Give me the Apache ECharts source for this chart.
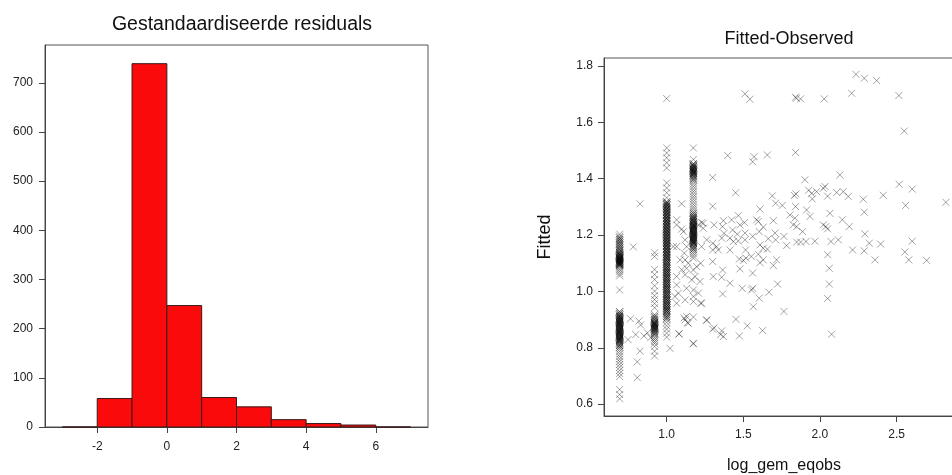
<!DOCTYPE html>
<html>
<head>
<meta charset="utf-8">
<title>Residuals and fitted values</title>
<script src="https://cdn.jsdelivr.net/npm/echarts@6/dist/echarts.min.js"></script>
<style>
  html, body { margin: 0; padding: 0; background: #ffffff; }
  #chart { width: 952px; height: 475px; }
</style>
</head>
<body>
<div id="chart"></div>
<script>
// ---- Histogram of standardised residuals ----
const binEdges = [-3, -2, -1, 0, 1, 2, 3, 4, 5, 6, 7];
const binCounts = [0, 58, 739, 247, 60, 41, 15, 7, 4, 0];
const histXTicks = [-2, 0, 2, 4, 6];
const histYTicks = [0, 100, 200, 300, 400, 500, 600, 700];

// ---- Fitted vs observed ----
// x positions of the four dense columns of observations
const stripeX = [0.693, 0.921, 1.0, 1.174];
// each column: [fitted value, number of observations sharing it]
const stripe069 = [
  [1.203, 1], [1.196, 1], [1.190, 2], [1.184, 2], [1.178, 2], [1.172, 2], [1.166, 2],
  [1.160, 2], [1.154, 2], [1.148, 2], [1.143, 2], [1.138, 2], [1.134, 2], [1.130, 3],
  [1.126, 3], [1.122, 3], [1.119, 3], [1.116, 3], [1.113, 3], [1.110, 3], [1.107, 3],
  [1.104, 3], [1.101, 3], [1.098, 3], [1.095, 3], [1.092, 2], [1.088, 1], [1.083, 1],
  [1.077, 1], [1.070, 1], [1.062, 1], [1.055, 1], [1.005, 1],
  [0.928, 2], [0.922, 2], [0.916, 3], [0.911, 3], [0.906, 3], [0.902, 3], [0.898, 3],
  [0.894, 3], [0.890, 3], [0.886, 3], [0.882, 3], [0.878, 3], [0.874, 3], [0.870, 3],
  [0.866, 3], [0.862, 3], [0.858, 3], [0.854, 3], [0.850, 3], [0.846, 3], [0.842, 3],
  [0.838, 3], [0.834, 3], [0.830, 3], [0.826, 3], [0.822, 2], [0.818, 2], [0.813, 2],
  [0.808, 2], [0.802, 2], [0.795, 1], [0.787, 1], [0.778, 1], [0.769, 1], [0.760, 1],
  [0.751, 1], [0.741, 1], [0.731, 1], [0.720, 1], [0.709, 1], [0.698, 1], [0.652, 1],
  [0.634, 1], [0.619, 1]
];
const stripe092 = [
  [1.137, 1], [1.124, 1], [1.078, 1], [1.060, 1], [1.042, 1], [1.020, 1], [1.001, 1],
  [0.985, 1], [0.971, 1], [0.957, 1], [0.942, 1], [0.918, 1], [0.912, 2], [0.906, 2],
  [0.900, 2], [0.895, 2], [0.890, 3], [0.886, 3], [0.882, 3], [0.878, 3], [0.874, 3],
  [0.870, 3], [0.866, 3], [0.862, 2], [0.858, 2], [0.853, 2], [0.848, 2], [0.842, 1],
  [0.836, 1], [0.829, 1], [0.822, 1], [0.815, 1], [0.805, 1], [0.788, 1], [0.771, 1]
];
const stripe100 = [
  [1.684, 1], [1.509, 1], [1.491, 1], [1.474, 1], [1.456, 1], [1.438, 1], [1.385, 1],
  [1.367, 1], [1.350, 1], [1.332, 1],
  [1.318, 2], [1.313, 3], [1.307, 3], [1.302, 3], [1.296, 3], [1.291, 3], [1.285, 3],
  [1.280, 3], [1.274, 3], [1.269, 3], [1.263, 3], [1.258, 3], [1.252, 3], [1.247, 3],
  [1.241, 3], [1.236, 3], [1.230, 3], [1.225, 3], [1.219, 3], [1.214, 3], [1.208, 3],
  [1.203, 3], [1.197, 3], [1.192, 3], [1.186, 3], [1.181, 3], [1.175, 3], [1.170, 3],
  [1.164, 3], [1.159, 3], [1.153, 3], [1.148, 3], [1.142, 3], [1.137, 3], [1.131, 3],
  [1.126, 3], [1.120, 3], [1.115, 3], [1.109, 3], [1.103, 3], [1.097, 3], [1.091, 3],
  [1.085, 3], [1.079, 3], [1.073, 3], [1.067, 3], [1.061, 3], [1.055, 3], [1.049, 3],
  [1.043, 3], [1.037, 3], [1.031, 3], [1.025, 3], [1.019, 3], [1.013, 3], [1.007, 3],
  [1.001, 3], [0.995, 3], [0.989, 3], [0.983, 3], [0.977, 3], [0.971, 3], [0.965, 3],
  [0.959, 3], [0.953, 3], [0.947, 3], [0.941, 3], [0.935, 3], [0.929, 3], [0.923, 2],
  [0.917, 2], [0.911, 2], [0.905, 2], [0.899, 1], [0.890, 1], [0.878, 1], [0.866, 1],
  [0.852, 1], [0.838, 1]
];
const stripe117 = [
  [1.509, 1], [1.468, 1], [1.453, 2], [1.448, 3], [1.443, 3], [1.438, 3], [1.434, 3],
  [1.430, 3], [1.426, 3], [1.422, 3], [1.418, 3], [1.413, 3], [1.408, 2], [1.402, 2],
  [1.396, 2], [1.389, 1], [1.381, 1], [1.372, 1], [1.363, 1], [1.354, 1], [1.345, 1],
  [1.336, 1], [1.327, 1], [1.318, 1], [1.309, 1], [1.300, 1], [1.292, 1], [1.284, 1],
  [1.277, 2], [1.270, 2], [1.264, 3], [1.258, 3], [1.253, 3], [1.248, 3], [1.243, 3],
  [1.238, 3], [1.234, 3], [1.230, 3], [1.226, 3], [1.222, 3], [1.218, 3], [1.214, 3],
  [1.210, 3], [1.206, 3], [1.202, 3], [1.198, 3], [1.194, 3], [1.190, 3], [1.186, 3],
  [1.182, 3], [1.178, 3], [1.174, 3], [1.170, 3], [1.165, 2], [1.160, 2], [1.154, 2],
  [1.148, 2], [1.141, 1], [1.134, 1], [1.126, 1], [1.118, 1]
];
// remaining observations as [log_gem_eqobs, fitted]
const scatterPts = [
  [1.511, 1.701], [1.543, 1.682], [1.841, 1.689], [1.846, 1.685], [1.874, 1.683],
  [2.028, 1.683], [2.207, 1.703], [2.235, 1.770], [2.289, 1.756], [2.370, 1.748],
  [2.515, 1.695], [2.550, 1.569],
  [1.398, 1.482], [1.570, 1.478], [1.561, 1.460], [1.657, 1.484], [1.841, 1.493],
  [1.300, 1.404], [1.450, 1.350], [0.826, 1.311], [1.098, 1.311], [1.300, 1.302],
  [2.130, 1.413], [1.902, 1.396], [2.517, 1.380], [2.602, 1.363], [2.413, 1.341],
  [2.822, 1.316], [2.559, 1.305], [2.283, 1.327], [2.289, 1.281], [2.022, 1.366],
  [2.033, 1.372], [1.926, 1.359], [1.946, 1.348], [1.950, 1.328], [1.978, 1.354],
  [1.843, 1.346], [1.833, 1.340], [1.841, 1.301], [2.050, 1.338], [2.109, 1.351],
  [2.152, 1.354], [2.185, 1.337], [2.191, 1.230], [2.065, 1.277], [2.146, 1.254],
  [2.120, 1.183], [2.213, 1.147], [2.293, 1.204], [2.322, 1.171], [2.289, 1.144],
  [2.396, 1.168], [2.359, 1.112], [2.554, 1.140], [2.602, 1.178], [2.580, 1.112],
  [2.696, 1.110],
  [1.689, 1.339], [1.711, 1.313], [1.754, 1.305], [1.804, 1.271], [1.826, 1.236],
  [1.848, 1.230], [1.913, 1.289], [1.935, 1.266], [1.837, 1.260], [1.887, 1.212],
  [1.848, 1.175], [1.874, 1.175], [1.909, 1.177], [1.967, 1.178], [2.022, 1.236],
  [2.039, 1.230], [2.050, 1.222], [2.072, 1.177], [2.050, 1.130], [2.061, 1.082],
  [2.061, 1.026], [2.050, 0.975], [2.076, 0.848],
  [1.783, 1.163], [1.765, 1.195], [1.707, 1.207], [1.696, 1.251], [1.711, 1.183],
  [1.717, 1.112], [1.696, 1.092], [1.724, 1.026], [1.765, 0.929], [1.667, 0.997],
  [1.630, 1.228], [1.604, 1.212], [1.598, 1.248], [1.587, 1.254], [1.609, 1.292],
  [1.561, 1.195], [1.609, 1.165], [1.630, 1.153], [1.657, 1.150], [1.663, 1.187],
  [1.598, 1.132], [1.552, 1.124], [1.630, 1.112], [1.609, 1.102], [1.604, 0.976],
  [1.561, 1.065], [1.561, 1.011], [1.554, 1.005], [1.565, 0.946], [1.493, 1.011],
  [1.526, 0.878], [1.626, 0.861], [1.474, 0.842], [1.452, 0.901],
  [1.511, 1.207], [1.511, 1.183], [1.515, 1.147], [1.517, 1.118], [1.500, 1.110],
  [1.478, 1.080], [1.474, 1.115], [1.467, 1.179], [1.435, 1.177], [1.430, 1.218],
  [1.461, 1.203], [1.478, 1.236], [1.424, 1.254], [1.467, 1.269], [1.507, 1.244],
  [1.413, 1.147], [1.413, 1.189], [1.374, 1.206], [1.365, 1.230], [1.359, 1.189],
  [1.370, 1.251], [1.326, 1.159], [1.337, 1.147], [1.300, 1.147], [1.300, 1.171],
  [1.309, 1.236], [1.261, 1.183], [1.239, 1.242], [1.228, 1.159], [1.222, 1.100],
  [1.217, 1.035], [1.300, 1.106], [1.304, 1.053], [1.359, 1.050], [1.365, 1.076],
  [1.413, 1.029], [1.365, 0.991], [1.228, 0.958], [1.261, 0.899], [1.300, 0.866],
  [1.359, 0.860], [1.370, 0.840],
  [1.174, 0.982], [1.174, 0.816], [1.130, 0.911], [1.120, 0.899], [1.141, 0.887],
  [1.080, 0.849], [1.054, 0.982], [1.065, 0.958], [1.076, 0.994], [1.065, 1.023],
  [1.065, 1.053], [1.098, 1.077], [1.120, 1.059], [1.120, 1.112], [1.130, 1.082],
  [1.141, 1.100], [1.130, 1.011], [1.120, 0.970], [1.174, 0.964], [1.174, 1.005],
  [1.163, 1.041], [1.174, 1.076], [1.185, 1.053], [1.196, 1.088], [1.222, 0.958],
  [1.207, 0.994], [1.065, 1.254], [1.065, 1.236], [1.098, 1.221], [1.109, 1.212],
  [1.120, 1.183], [1.130, 1.159], [1.115, 1.136], [1.087, 1.112], [1.065, 1.159],
  [1.043, 1.159], [1.228, 1.244], [1.239, 1.224], [1.207, 1.236],
  [0.782, 1.158], [0.764, 0.903], [0.819, 0.895], [0.830, 0.881], [0.798, 0.847],
  [0.852, 0.842], [0.748, 0.829], [0.826, 0.788], [0.808, 0.750], [0.808, 0.694],
  [0.874, 0.853], [0.896, 0.836], [1.022, 0.798], [1.081, 0.850], [1.174, 0.814],
  [1.114, 0.906], [1.136, 0.889], [1.174, 0.909], [1.261, 0.897], [1.309, 0.871],
  [1.352, 0.847]
];
const fitYTicks = [0.6, 0.8, 1.0, 1.2, 1.4, 1.6, 1.8];
const fitXTicks = [1.0, 1.5, 2.0, 2.5];

const histData = binCounts.map((n, i) => [binEdges[i], binEdges[i + 1], n]);
const stripes = [stripe069, stripe092, stripe100, stripe117];
const fitData = [];
stripes.forEach((rows, i) => rows.forEach(([y, n]) => {
  for (let k = 0; k < n; k++) fitData.push([stripeX[i], y]);
}));
scatterPts.forEach(p => fitData.push(p));

const FONT = '"Liberation Sans", Arial, Helvetica, sans-serif';
const AXIS_COLOR = '#444';
const LABEL_COLOR = '#222';

const chart = echarts.init(document.getElementById('chart'), null, { renderer: 'canvas' });

chart.setOption({
  backgroundColor: '#ffffff',
  animation: false,
  textStyle: { fontFamily: FONT },
  title: [
    {
      text: 'Gestandaardiseerde residuals',
      left: 237, top: 10, textAlign: 'center',
      textStyle: { fontFamily: FONT, fontSize: 19.5, fontWeight: 'normal', color: '#111' }
    },
    {
      text: 'Fitted-Observed',
      left: 784, top: 25, textAlign: 'center',
      textStyle: { fontFamily: FONT, fontSize: 18, fontWeight: 'normal', color: '#111' }
    }
  ],
  grid: [
    { left: 45, top: 45, width: 383, height: 382, outerBoundsMode: 'none',
      show: true, borderColor: '#555', borderWidth: 1, backgroundColor: 'transparent' },
    { left: 604, top: 58, width: 360, height: 358, outerBoundsMode: 'none',
      show: true, borderColor: '#555', borderWidth: 1, backgroundColor: 'transparent' }
  ],
  xAxis: [
    {
      gridIndex: 0, type: 'value', min: -3.5, max: 7.5,
      axisLine: { show: true, onZero: false, lineStyle: { color: AXIS_COLOR, width: 1 } },
      axisTick: { show: true, length: 6, customValues: histXTicks, lineStyle: { color: AXIS_COLOR } },
      axisLabel: { customValues: histXTicks, margin: 14, fontSize: 12, color: LABEL_COLOR, fontFamily: FONT },
      splitLine: { show: false }
    },
    {
      gridIndex: 1, type: 'value', min: 0.591, max: 2.94,
      name: 'log_gem_eqobs', nameLocation: 'middle', nameGap: 42,
      nameTextStyle: { fontSize: 16, color: '#111', fontFamily: FONT },
      axisLine: { show: true, onZero: false, lineStyle: { color: AXIS_COLOR, width: 1 } },
      axisTick: { show: true, length: 6, customValues: fitXTicks, lineStyle: { color: AXIS_COLOR } },
      axisLabel: { customValues: fitXTicks, margin: 13, fontSize: 12, color: LABEL_COLOR, fontFamily: FONT,
                   formatter: v => v.toFixed(1) },
      splitLine: { show: false }
    }
  ],
  yAxis: [
    {
      gridIndex: 0, type: 'value', min: 0, max: 777,
      axisLine: { show: true, onZero: false, lineStyle: { color: AXIS_COLOR, width: 1 } },
      axisTick: { show: true, length: 6, customValues: histYTicks, lineStyle: { color: AXIS_COLOR } },
      axisLabel: { customValues: histYTicks, margin: 12, fontSize: 12, color: LABEL_COLOR, fontFamily: FONT },
      splitLine: { show: false }
    },
    {
      gridIndex: 1, type: 'value', min: 0.558, max: 1.828,
      name: 'Fitted', nameLocation: 'middle', nameGap: 50, nameRotate: 90,
      nameTextStyle: { fontSize: 18, color: '#111', fontFamily: FONT },
      axisLine: { show: true, onZero: false, lineStyle: { color: AXIS_COLOR, width: 1 } },
      axisTick: { show: true, length: 6, customValues: fitYTicks, lineStyle: { color: AXIS_COLOR } },
      axisLabel: { customValues: fitYTicks, margin: 11, fontSize: 12, color: LABEL_COLOR, fontFamily: FONT,
                   formatter: v => v.toFixed(1) },
      splitLine: { show: false }
    }
  ],
  series: [
    {
      type: 'custom',
      name: 'residuals',
      xAxisIndex: 0, yAxisIndex: 0,
      data: histData,
      encode: { x: [0, 1], y: 2 },
      renderItem: function (params, api) {
        const topLeft = api.coord([api.value(0), api.value(2)]);
        const bottomRight = api.coord([api.value(1), 0]);
        return {
          type: 'rect',
          shape: {
            x: topLeft[0], y: topLeft[1],
            width: bottomRight[0] - topLeft[0],
            height: bottomRight[1] - topLeft[1]
          },
          style: { fill: '#fa0a0a', stroke: '#3a1a1a', lineWidth: 1 }
        };
      }
    },
    {
      type: 'scatter',
      name: 'fitted',
      xAxisIndex: 1, yAxisIndex: 1,
      data: fitData,
      symbol: 'path://M0,0L10,10M10,0L0,10',
      symbolSize: 7,
      itemStyle: { color: 'rgba(0,0,0,0)', borderColor: 'rgba(0,0,0,0.45)', borderWidth: 1 },
      emphasis: { disabled: true },
      silent: true
    }
  ]
});
</script>
</body>
</html>
